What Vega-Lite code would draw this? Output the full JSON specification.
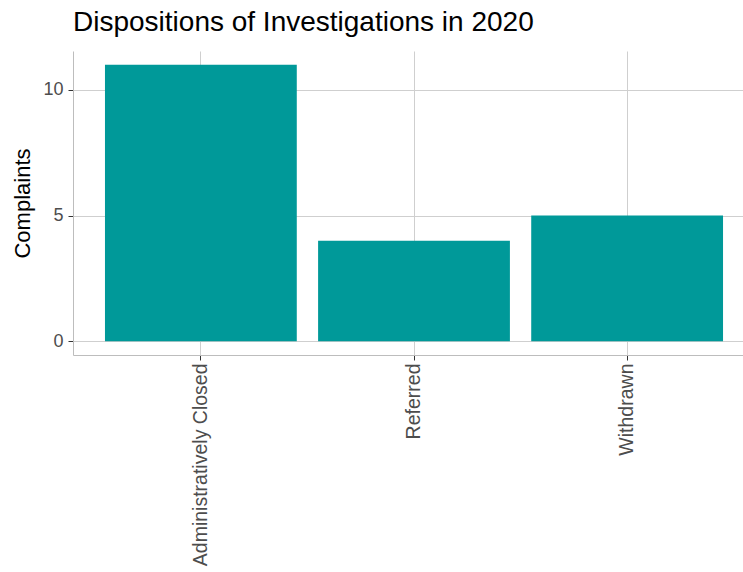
{
  "$schema": "https://vega.github.io/schema/vega-lite/v6.json",
  "width": 682,
  "height": 304,
  "autosize": {"type": "none"},
  "padding": {"left": 73, "top": 51, "right": 0, "bottom": 217},
  "background": "white",
  "config": {
    "font": "Liberation Sans",
    "view": {"stroke": null}
  },
  "title": {
    "text": "Dispositions of Investigations in 2020",
    "anchor": "start",
    "frame": "group",
    "fontSize": 28,
    "fontWeight": "normal",
    "color": "#000000",
    "font": "Liberation Sans",
    "offset": 14
  },
  "data": {
    "values": [
      {"Disposition": "Administratively Closed", "Complaints": 11},
      {"Disposition": "Referred", "Complaints": 4},
      {"Disposition": "Withdrawn", "Complaints": 5}
    ]
  },
  "mark": {"type": "bar", "color": "#009999"},
  "encoding": {
    "x": {
      "field": "Disposition",
      "type": "nominal",
      "sort": null,
      "scale": {"paddingInner": 0.1, "paddingOuter": 0.15},
      "axis": {
        "title": null,
        "labelAngle": 270,
        "labelFontSize": 19.5,
        "labelColor": "#4d4d4d",
        "labelPadding": 3,
        "tickColor": "#333333",
        "tickSize": 5,
        "domainColor": "#bdbdbd",
        "grid": true,
        "gridColor": "#cfcfcf",
        "labelLimit": 400
      }
    },
    "y": {
      "field": "Complaints",
      "type": "quantitative",
      "scale": {"domain": [-0.55, 11.55], "nice": false, "zero": false},
      "axis": {
        "values": [0, 5, 10],
        "title": "Complaints",
        "titleFontSize": 22,
        "titleFontWeight": "normal",
        "titleColor": "#000000",
        "titlePadding": 8,
        "labelFontSize": 18,
        "labelColor": "#4d4d4d",
        "labelPadding": 5,
        "tickColor": "#333333",
        "tickSize": 5,
        "domainColor": "#bdbdbd",
        "gridColor": "#cfcfcf"
      }
    },
    "y2": {"datum": 0}
  }
}
